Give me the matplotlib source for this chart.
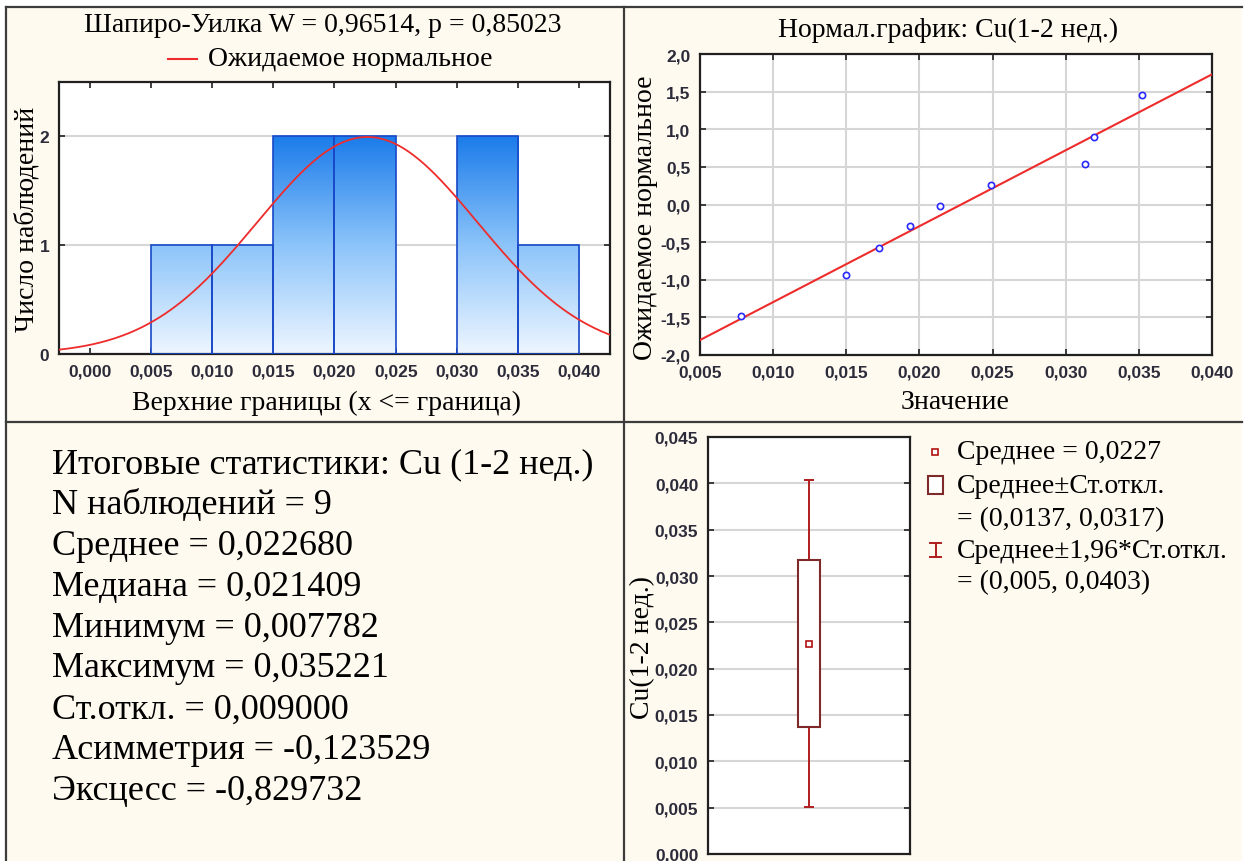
import numpy as np
import matplotlib
matplotlib.use("Agg")
import matplotlib.pyplot as plt
from matplotlib.patches import Rectangle
from matplotlib.colors import LinearSegmentedColormap
from matplotlib.ticker import FuncFormatter, MultipleLocator

# data (Cu, 1-2 weeks)
values = [0.007782, 0.01495, 0.01722, 0.01938, 0.021409, 0.02490, 0.03130, 0.03195, 0.035221]
expected_z = [-1.48, -0.94, -0.58, -0.29, -0.02, 0.26, 0.54, 0.90, 1.45]
bin_edges = [0.005, 0.010, 0.015, 0.020, 0.025, 0.030, 0.035, 0.040]
counts = [1, 1, 2, 2, 0, 2, 1]

mean = 0.022680
sd = 0.009000
n_obs = 9

sw_title = "Шапиро-Уилка W = 0,96514, p = 0,85023"
stat_names = ["N наблюдений", "Среднее", "Медиана", "Минимум", "Максимум",
              "Ст.откл.", "Асимметрия", "Эксцесс"]
stat_values = ["9", "0,022680", "0,021409", "0,007782", "0,035221",
               "0,009000", "-0,123529", "-0,829732"]

W, H = 1251, 862
SERIF = "Liberation Serif"
SANS = "Liberation Sans"
cream = "#FFFAF0"
frame = "#3c3c3c"
tick_kw = dict(fontfamily=SANS, fontsize=12.5, fontweight="bold", color="#2b2b3a")


def px_rect(x0, y0, x1, y1):
    return [x0 / W, 1 - y1 / H, (x1 - x0) / W, (y1 - y0) / H]


def comma(fmt):
    return FuncFormatter(lambda v, p: (fmt % v).replace(".", ","))


def style_axes(ax):
    for s in ax.spines.values():
        s.set_color("#202020")
        s.set_linewidth(1.6)
    ax.tick_params(direction="in", length=4, width=1.2, color="#202020",
                   top=True, right=True, pad=7)
    for lab in ax.get_xticklabels() + ax.get_yticklabels():
        lab.set(**tick_kw)


fig = plt.figure(figsize=(W / 100, H / 100), dpi=100, facecolor="white")

# overlay in pixel coordinates for the panel frame and free text
ov = fig.add_axes([0, 0, 1, 1], zorder=0)
ov.set_xlim(0, W)
ov.set_ylim(H, 0)
ov.axis("off")
ov.add_patch(Rectangle((6, 8), 1236, 854, fc=cream, ec="none"))
ov.plot([6, 1242], [8, 8], color=frame, lw=1.6)
ov.plot([6, 6], [8, 862], color=frame, lw=1.6)
ov.plot([624, 624], [8, 862], color=frame, lw=1.6)
ov.plot([6, 1242], [423, 423], color=frame, lw=1.6)

# ---------- histogram ----------
ax1 = fig.add_axes(px_rect(59, 83, 610, 355), zorder=1)
cmap = LinearSegmentedColormap.from_list("bl", ["#EEF6FF", "#8CC4FA", "#1C7CEA"])
bars = ax1.bar(bin_edges[:-1], counts, width=0.005, align="edge",
               facecolor="none", edgecolor="#1848C8", linewidth=1.2, zorder=3)
for b, h in zip(bars, counts):
    if h == 0:
        continue
    x0 = b.get_x()
    grad = np.linspace(0, h, 200).reshape(-1, 1)
    im = ax1.imshow(grad, extent=(x0, x0 + b.get_width(), 0, h), origin="lower",
                    aspect="auto", cmap=cmap, vmin=0, vmax=2, zorder=2)
    im.set_clip_path(b)
xs = np.linspace(-0.0025, 0.0425, 300)
binw = 0.005
ys = n_obs * binw * np.exp(-0.5 * ((xs - mean) / sd) ** 2) / (sd * np.sqrt(2 * np.pi))
ax1.plot(xs, ys, color="#EE2C2C", lw=1.3, zorder=4)
ax1.set_xlim(-0.0025, 0.0425)
ax1.set_ylim(0, 2.5)
ax1.xaxis.set_major_locator(MultipleLocator(0.005))
ax1.xaxis.set_major_formatter(comma("%.3f"))
ax1.set_yticks([0, 1, 2])
ax1.grid(axis="y", color="#d6d6d6", lw=1.5, zorder=0)
ax1.set_axisbelow(True)
style_axes(ax1)

ov.text(323, 25, sw_title, family=SERIF, fontsize=20, ha="center", va="center")
ov.plot([168, 197], [60, 60], color="#EE2C2C", lw=1.5)
ov.text(208, 60, "Ожидаемое нормальное", family=SERIF, fontsize=20, ha="left", va="center")
ov.text(326, 403, "Верхние границы (x <= граница)", family=SERIF, fontsize=20,
        ha="center", va="center")
ov.text(27, 219, "Число наблюдений", family=SERIF, fontsize=20, rotation=90,
        ha="center", va="center")

# ---------- normal probability plot ----------
ax2 = fig.add_axes(px_rect(700, 55, 1212, 356), zorder=1)
k, b0 = np.polyfit(values, expected_z, 1)
lx = np.array([0.005, 0.040])
ax2.plot(lx, k * lx + b0, color="#EE2C2C", lw=1.5, zorder=3)
ax2.plot(values, expected_z, ls="none", marker="o", ms=4.5, mfc="white",
         mec="#2828FF", mew=1.2, zorder=4)
ax2.set_xlim(0.005, 0.040)
ax2.set_ylim(-2, 2)
ax2.xaxis.set_major_locator(MultipleLocator(0.005))
ax2.yaxis.set_major_locator(MultipleLocator(0.5))
ax2.xaxis.set_major_formatter(comma("%.3f"))
ax2.yaxis.set_major_formatter(comma("%.1f"))
ax2.grid(color="#d6d6d6", lw=1.5, zorder=0)
ax2.set_axisbelow(True)
style_axes(ax2)

ov.text(948, 30, "Нормал.график: Cu(1-2 нед.)", family=SERIF, fontsize=20,
        ha="center", va="center")
ov.text(955, 403, "Значение", family=SERIF, fontsize=20, ha="center", va="center")
ov.text(645, 218, "Ожидаемое нормальное", family=SERIF, fontsize=20, rotation=90,
        ha="center", va="center")

# ---------- summary text ----------
lines = ["Итоговые статистики: Cu (1-2 нед.)"] + \
        ["%s = %s" % (nm, v) for nm, v in zip(stat_names, stat_values)]
for i, s in enumerate(lines):
    ov.text(52, 465 + 40.8 * i, s, family=SERIF, fontsize=26, ha="left", va="center")

# ---------- box / whisker ----------
ax3 = fig.add_axes(px_rect(708, 438, 910, 855), zorder=1)
ax3.bar(0, 2 * sd, bottom=mean - sd, width=0.11, facecolor="white",
        edgecolor="#7E2A2A", linewidth=1.5, zorder=3)
ax3.errorbar(0, mean, yerr=1.96 * sd, fmt="none", ecolor="#B01E1E",
             elinewidth=1.4, capsize=3.3, capthick=1.4, zorder=2)
ax3.plot(0, mean, ls="none", marker="s", ms=4, mfc="white", mec="#B01010",
         mew=1.2, zorder=4)
ax3.set_xlim(-0.5, 0.5)
ax3.set_ylim(0, 0.045)
ax3.yaxis.set_major_locator(MultipleLocator(0.005))
ax3.yaxis.set_major_formatter(comma("%.3f"))
ax3.set_xticks([])
ax3.grid(axis="y", color="#d6d6d6", lw=1.5, zorder=0)
ax3.set_axisbelow(True)
style_axes(ax3)
ax3.tick_params(top=False, bottom=False)

ov.text(643, 648, "Cu(1-2 нед.)", family=SERIF, fontsize=20, rotation=90,
        ha="center", va="center")

# legend of the box plot
lo, hi = mean - sd, mean + sd
wlo, whi = mean - 1.96 * sd, mean + 1.96 * sd
ov.plot([935], [453], ls="none", marker="s", ms=4, mfc="white", mec="#B01010", mew=1.2)
ov.text(957, 453, "Среднее = %s" % ("%.4f" % mean).replace(".", ","),
        family=SERIF, fontsize=20, va="center")
ov.add_patch(Rectangle((928, 477), 15, 18, fc="white", ec="#7E2A2A", lw=1.5))
ov.text(957, 487, "Среднее±Ст.откл.", family=SERIF, fontsize=20, va="center")
ov.text(957, 520, "= (%s, %s)" % (("%.4f" % lo).replace(".", ","),
                                  ("%.4f" % hi).replace(".", ",")),
        family=SERIF, fontsize=20, va="center")
ov.plot([935.5, 935.5], [544, 558], color="#B01E1E", lw=1.4)
ov.plot([930, 941], [544, 544], color="#B01E1E", lw=1.4)
ov.plot([930, 941], [558, 558], color="#B01E1E", lw=1.4)
ov.text(957, 552, "Среднее±1,96*Ст.откл.", family=SERIF, fontsize=20, va="center")
ov.text(957, 583, "= (%s, %s)" % (("%.3f" % wlo).replace(".", ","),
                                  ("%.4f" % whi).replace(".", ",")),
        family=SERIF, fontsize=20, va="center")

fig.savefig("out.png", dpi=100, facecolor="white")
